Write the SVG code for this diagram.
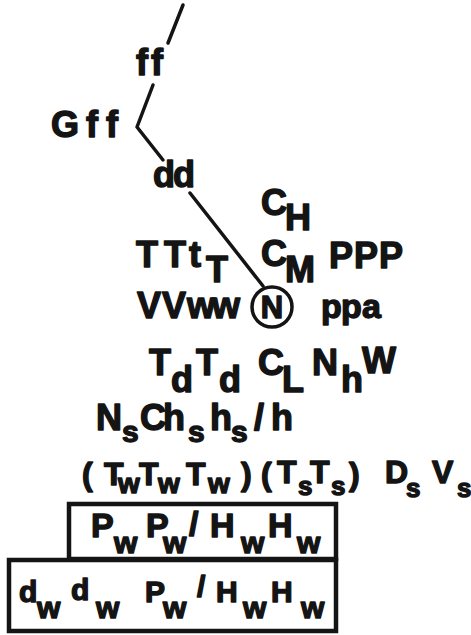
<svg xmlns="http://www.w3.org/2000/svg" width="471" height="635" viewBox="0 0 471 635">
<style>
.t{font-family:"Liberation Sans",Arial,sans-serif;font-weight:bold;font-size:36px;fill:#141414;stroke:#141414;stroke-width:1.4;stroke-linejoin:round}
.s{font-size:30px}
.m{font-size:32px}
.ln{stroke:#141414;stroke-width:3.5;fill:none;stroke-linecap:round;stroke-linejoin:round}
.bx{stroke:#141414;stroke-width:4.5;fill:none}
</style>
<rect width="471" height="635" fill="#ffffff"/>
<g id="connectors">
<line class="ln" x1="183" y1="5" x2="168" y2="43"/>
<polyline class="ln" points="153,85 137,127 163,160"/>
<line class="ln" x1="190" y1="193" x2="263" y2="286"/>
</g>
<g id="ff"><text class="t" x="136 151" y="75">ff</text></g>
<g id="Gff"><text class="t" x="51 86 106" y="137">Gff</text></g>
<g id="dd"><text class="t" x="153 173" y="187">dd</text></g>
<g id="CH"><text class="t" x="261" y="215">C</text><text class="t" x="285" y="230">H</text></g>
<g id="TTtT"><text class="t" x="136 164 189" y="267">TTt</text><text class="t" x="206" y="282">T</text></g>
<g id="CM"><text class="t" x="261" y="266">C</text><text class="t" x="285" y="282">M</text></g>
<g id="PPP"><text class="t" x="329 354 379" y="268">PPP</text></g>
<g id="VVww"><text class="t" x="137 162 187 212" y="318">VVww</text></g>
<g id="N"><circle cx="272" cy="307" r="20" class="ln"/><text class="t" style="font-size:31px" x="272" y="318" text-anchor="middle">N</text></g>
<g id="ppa"><text class="t" style="font-size:34px" x="321 341 362" y="318">ppa</text></g>
<g id="TdTd"><text class="t" x="149" y="375">T</text><text class="t" x="171" y="392">d</text><text class="t" x="196" y="375">T</text><text class="t" x="219" y="392">d</text></g>
<g id="CL"><text class="t" x="258" y="375">C</text><text class="t" x="282" y="392">L</text></g>
<g id="NhW"><text class="t" x="312" y="375">N</text><text class="t" x="341" y="392">h</text><text class="t" x="362" y="373">W</text></g>
<g id="NsChshs-h"><text class="t" x="96" y="430">N</text><text class="t s" x="122" y="442">s</text><text class="t" x="140 163" y="430">Ch</text><text class="t s" x="188" y="442">s</text><text class="t" x="210" y="430">h</text><text class="t s" x="231" y="442">s</text><text class="t" x="254 271" y="430">/h</text></g>
<g id="Tw"><text class="t m" x="82" y="485">(</text><text class="t m" x="104" y="485">T</text><text class="t" style="font-size:28px" x="118" y="493">w</text><text class="t m" x="139" y="485">T</text><text class="t" style="font-size:28px" x="158" y="493">w</text><text class="t m" x="186" y="485">T</text><text class="t" style="font-size:28px" x="208" y="493">w</text><text class="t m" x="241" y="485">)</text></g>
<g id="Ts"><text class="t m" x="261" y="485">(</text><text class="t m" x="277" y="483">T</text><text class="t" style="font-size:26px" x="298" y="495">s</text><text class="t m" x="310" y="483">T</text><text class="t" style="font-size:26px" x="331" y="495">s</text><text class="t m" x="349" y="485">)</text></g>
<g id="DsVs"><text class="t m" x="385" y="483">D</text><text class="t" style="font-size:26px" x="406" y="497">s</text><text class="t m" x="432" y="483">V</text><text class="t" style="font-size:26px" x="457" y="497">s</text></g>
<g id="box1"><rect class="bx" x="69" y="504" width="267" height="55"/>
<text class="t" style="font-size:34px" x="91" y="537">P</text><text class="t s" x="114" y="553">w</text><text class="t" style="font-size:34px" x="146" y="537">P</text><text class="t s" x="163" y="553">w</text><text class="t" style="font-size:34px" x="189" y="535">/</text><text class="t" style="font-size:34px" x="210" y="537">H</text><text class="t s" x="241" y="553">w</text><text class="t" style="font-size:34px" x="268" y="537">H</text><text class="t s" x="297" y="553">w</text></g>
<g id="box2"><rect class="bx" x="9" y="560" width="327" height="71"/>
<text class="t s" x="19" y="602">d</text><text class="t s" x="37" y="618">w</text><text class="t s" x="71" y="600">d</text><text class="t s" x="96" y="618">w</text><text class="t s" x="145" y="602">P</text><text class="t s" x="163" y="618">w</text><text class="t s" x="197" y="597">/</text><text class="t s" x="216" y="602">H</text><text class="t s" x="243" y="618">w</text><text class="t s" x="271" y="602">H</text><text class="t s" x="301" y="618">w</text></g>
</svg>
